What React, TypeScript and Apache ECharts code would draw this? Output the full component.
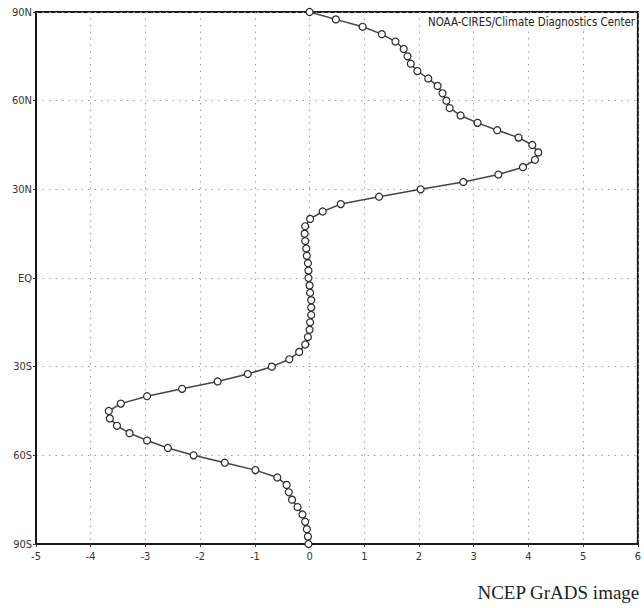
import React, { useEffect, useRef } from "react";
import * as echarts from "echarts";

const latitudes: number[] = [
  90, 87.5, 85, 82.5, 80, 77.5, 75, 72.5, 70, 67.5, 65, 62.5, 60, 57.5, 55, 52.5, 50, 47.5, 45, 42.5, 40, 37.5, 35, 32.5,
  30, 27.5, 25, 22.5, 20, 17.5, 15, 12.5, 10, 7.5, 5, 2.5, 0, -2.5, -5, -7.5, -10, -12.5, -15, -17.5, -20, -22.5, -25,
  -27.5, -30, -32.5, -35, -37.5, -40, -42.5, -45, -47.5, -50, -52.5, -55, -57.5, -60, -62.5, -65, -67.5, -70, -72.5,
  -75, -77.5, -80, -82.5, -85, -87.5, -90,
];

const values: number[] = [
  0.0, 0.48, 0.97, 1.32, 1.57, 1.72, 1.79, 1.85, 1.97, 2.17, 2.34, 2.43, 2.5, 2.56, 2.76, 3.07, 3.43, 3.82, 4.07, 4.18,
  4.12, 3.9, 3.45, 2.81, 2.03, 1.27, 0.57, 0.24, 0.01, -0.08, -0.09, -0.08, -0.06, -0.05, -0.03, -0.02, -0.02, 0.0,
  0.01, 0.03, 0.03, 0.03, 0.01, 0.0, -0.03, -0.08, -0.19, -0.37, -0.69, -1.13, -1.68, -2.33, -2.97, -3.45, -3.67,
  -3.65, -3.52, -3.29, -2.97, -2.59, -2.12, -1.55, -0.99, -0.59, -0.42, -0.38, -0.32, -0.22, -0.13, -0.08, -0.05,
  -0.03, -0.02,
];

const yTickLabels: Record<string, string> = {
  "90": "90N",
  "60": "60N",
  "30": "30N",
  "0": "EQ",
  "-30": "30S",
  "-60": "60S",
  "-90": "90S",
};

const creditText = "NOAA-CIRES/Climate Diagnostics Center";
const footerText = "NCEP GrADS image";

const narrowFont = "'DejaVu Sans Condensed', 'Liberation Sans Narrow', sans-serif";

export default function App() {
  const ref = useRef<HTMLDivElement>(null);

  useEffect(() => {
    if (!ref.current) return;
    const chart = echarts.init(ref.current, undefined, { renderer: "svg" });
    const data = latitudes.map((lat, i) => [values[i], lat]);
    chart.setOption({
      animation: false,
      backgroundColor: "#ffffff",
      grid: {
        left: 36,
        right: 5,
        top: 12,
        bottom: 64,
        show: true,
        borderColor: "#1a1a1a",
        borderWidth: 2,
        backgroundColor: "transparent",
      },
      xAxis: {
        type: "value",
        min: -5,
        max: 6,
        interval: 1,
        axisLine: { show: true, onZero: false, lineStyle: { color: "#1a1a1a", width: 2 } },
        axisTick: { show: true, length: 3, lineStyle: { color: "#333", width: 1 } },
        axisLabel: {
          color: "#333",
          fontSize: 11,
          fontFamily: narrowFont,
          margin: 7,
        },
        splitLine: {
          show: true,
          lineStyle: { color: "#a0a0a0", width: 1, type: [1.5, 5] },
        },
      },
      yAxis: {
        type: "value",
        min: -90,
        max: 90,
        interval: 30,
        axisLine: { show: true, onZero: false, lineStyle: { color: "#1a1a1a", width: 2 } },
        axisTick: { show: true, length: 3, lineStyle: { color: "#333", width: 1 } },
        axisLabel: {
          color: "#333",
          fontSize: 11,
          fontFamily: narrowFont,
          margin: 4,
          formatter: (v: number) => yTickLabels[String(v)] ?? String(v),
        },
        splitLine: {
          show: true,
          lineStyle: { color: "#a0a0a0", width: 1, type: [1.5, 5] },
        },
      },
      series: [
        {
          type: "line",
          data,
          symbol: "circle",
          symbolSize: 7,
          showSymbol: true,
          lineStyle: { color: "#444", width: 1.5 },
          itemStyle: { color: "#ffffff", borderColor: "#2a2a2a", borderWidth: 1.2 },
          z: 5,
        },
      ],
      graphic: [
        {
          type: "text",
          right: 9,
          top: 16,
          z: 10,
          style: {
            text: creditText,
            fill: "#222",
            font: `11.4px ${narrowFont}`,
            backgroundColor: "#ffffff",
          },
        },
        {
          type: "text",
          right: 4,
          top: 583,
          style: {
            text: footerText,
            fill: "#222",
            font: `19px 'Liberation Serif', 'DejaVu Serif', serif`,
          },
        },
      ],
    });
    return () => chart.dispose();
  }, []);

  return (
    <div
      ref={ref}
      style={{ position: "fixed", left: 0, top: 0, width: 644, height: 608, background: "#fff" }}
    />
  );
}
